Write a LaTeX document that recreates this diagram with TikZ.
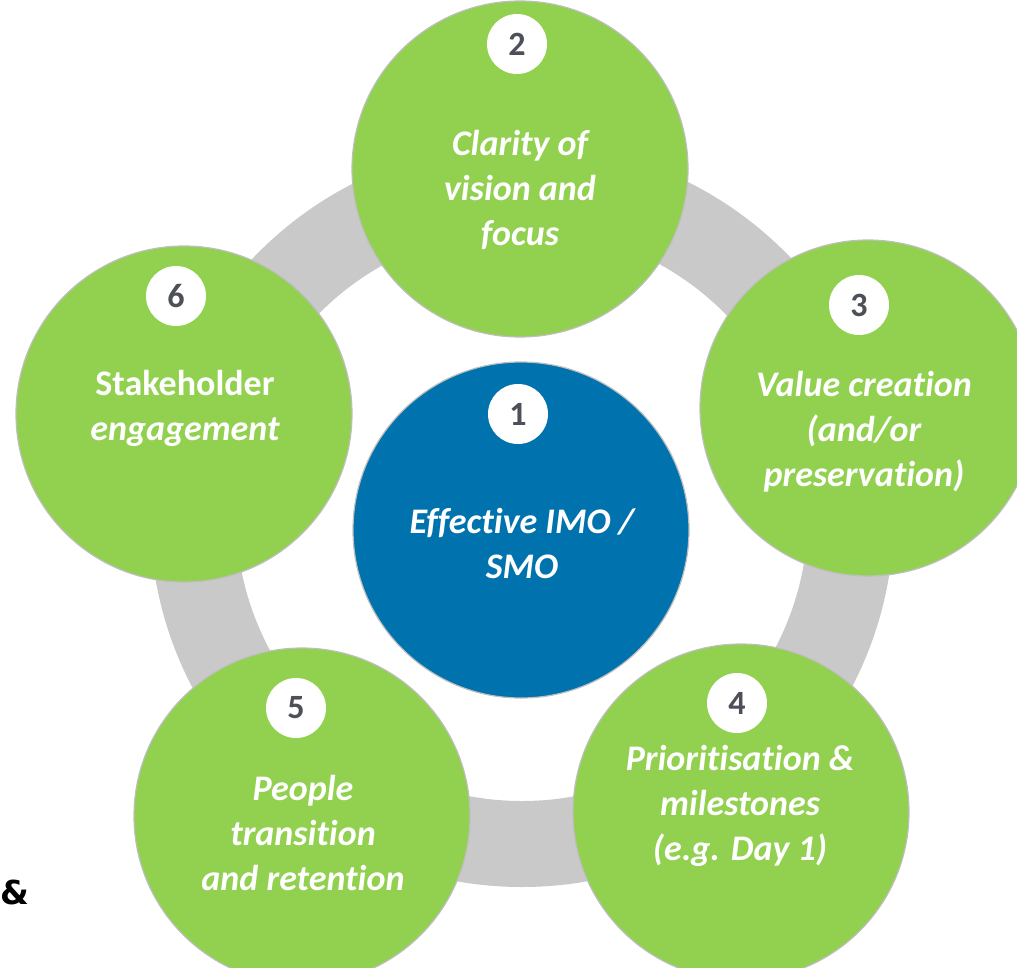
\documentclass[tikz,border=0pt]{standalone}
\usepackage{fontspec}
\setmainfont{Carlito}[Ligatures={NoCommon,NoContextual}]
\newfontfamily\ampfont{DejaVu Sans}
\usepackage{tikz}
\usetikzlibrary{positioning}

\definecolor{leafgreen}{HTML}{92D050}
\definecolor{imoblue}{HTML}{0073AE}
\definecolor{ringgrey}{HTML}{C9C9C9}
\definecolor{rimgrey}{HTML}{BEBEBE}
\definecolor{digitgrey}{HTML}{4D5058}

\tikzset{
	pillar/.style={circle, fill=leafgreen, draw=rimgrey, line width=1.2pt, minimum size=336pt, inner sep=0pt},
	core/.style={pillar, fill=imoblue},
	badge/.style={circle, fill=white, minimum size=60pt, inner sep=0pt, text=digitgrey, font=\fontsize{34}{34}\selectfont\bfseries},
	caption/.style={text=white, align=center, font=\fontsize{36}{45}\selectfont\bfseries\itshape},
}

\begin{document}
\begin{tikzpicture}[x=1pt,y=-1pt]
			\useasboundingbox (0,0) rectangle (1017,967);
			\clip (0,0) rectangle (1017,967);
			
			% grey ring behind everything
			\coordinate (hub) at (522,515);
			\fill[ringgrey, even odd rule] (hub) circle[radius=372pt] (hub) circle[radius=286pt];
			
			% the five outer pillars and the core
			\node[pillar] (vision) at (520,169) {};
			\node[pillar] (value) at (868,408) {};
			\node[pillar] (milestones) at (741,812) {};
			\node[pillar] (people) at (302,816) {};
			\node[pillar] (stakeholder) at (184,414) {};
			\node[core] (imo) at (521,530) {};
			
			% numbered badges
			\node[badge] (n1) at (518,414) {1};
			\node[badge] (n2) at (517,44) {2};
			\node[badge] (n3) at (859,305) {3};
			\node[badge] (n4) at (737,703) {4};
			\node[badge] (n5) at (296,708) {5};
			\node[badge] (n6) at (176,296) {6};
			
			% captions
			\node[caption] (t1) at (522,543) {Effective IMO /\\SMO};
			\node[caption] (t2) at (520,190) {Clarity of\\vision and\\focus};
			\node[caption] (t3) at (864,432) {Value creation\\(and/or\\preservation)};
			\node[caption] (t4) at (740,806) {Prioritisation \&\\milestones\\(e.g. Day 1)};
			\node[caption] (t5) at (303,833) {People\\transition\\and retention};
			\node[caption] (t6) at (185,408) {{\upshape Stakeholder}\\engagement};
			
			\node[anchor=base west, inner sep=0pt, font=\ampfont\bfseries\fontsize{33}{33}\selectfont] (amp) at (0,904) {\&};
			
		\end{tikzpicture}
\end{document}
